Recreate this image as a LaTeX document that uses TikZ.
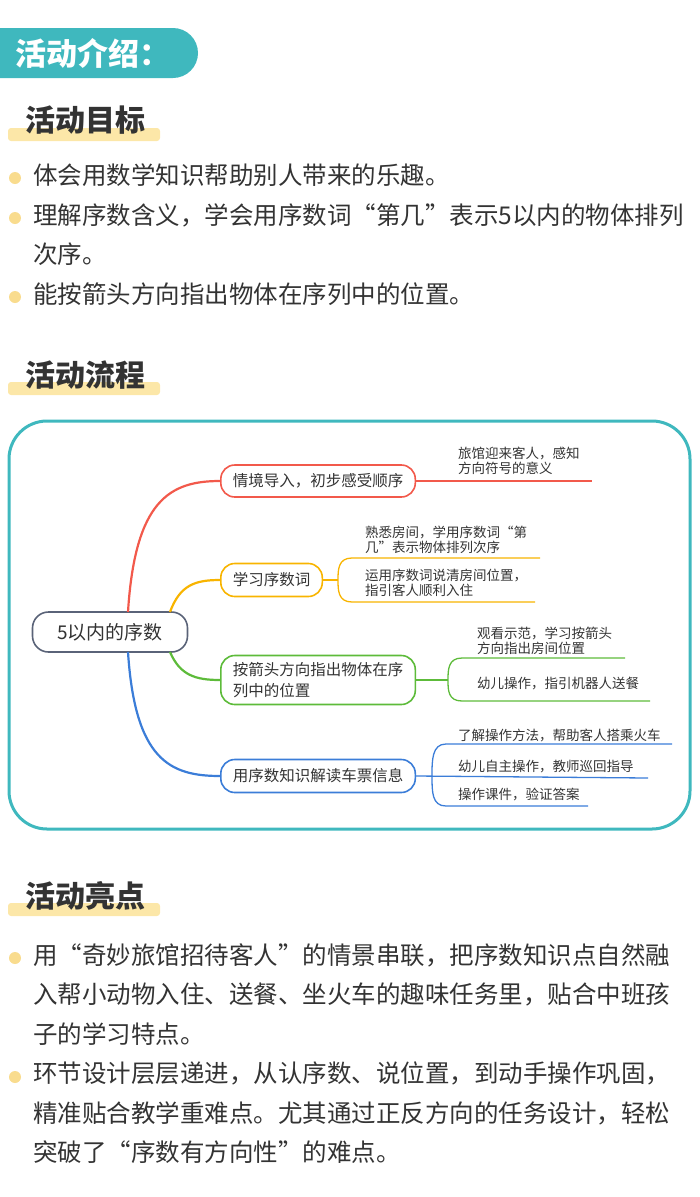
\documentclass[tikz,border=0pt]{standalone}
\usepackage{fontspec}
\setmainfont{Noto Sans CJK SC}
\usepackage{tikz}
\usetikzlibrary{positioning}
\definecolor{teal}{HTML}{3FB8BE}
\definecolor{hlbar}{HTML}{FCE7A8}
\definecolor{dotc}{HTML}{F9DC8E}
\definecolor{ink}{HTML}{333333}
\definecolor{cred}{HTML}{F2594B}
\definecolor{corange}{HTML}{F8B400}
\definecolor{cgreen}{HTML}{5DBB3A}
\definecolor{cblue}{HTML}{3B7DD8}
\definecolor{croot}{HTML}{5A6378}
\tikzset{
  heading/.style={font=\fontsize{30}{34}\selectfont\bfseries, text=ink, anchor=west, inner sep=0pt},
  para/.style={font=\fontsize{24.5}{39.5}\selectfont, text=ink, align=left, anchor=north west, inner sep=0pt},
  dot/.style={circle, fill=dotc, minimum size=12pt, inner sep=0pt},
  branch/.style={draw=#1, line width=1.6pt, rounded corners=14pt, font=\fontsize{15.5}{21}\selectfont, text=ink, inner xsep=12pt, align=left, anchor=west},
  leaf/.style={font=\fontsize{13.5}{15.5}\selectfont, text=ink, align=left, anchor=south west, inner sep=0pt}
}
\begin{document}
\begin{tikzpicture}[x=1pt,y=-1pt]
  \useasboundingbox (0,0) rectangle (700,1197);
  % title
  \fill[teal, rounded corners=25pt] (-30,28) rectangle (198,78);
  \node[font=\fontsize{31}{34}\selectfont\bfseries, text=white, anchor=west] (title) at (12,53) {活动介绍：};
  % goals
  \fill[hlbar, rounded corners=3pt] (8,128) rectangle (160,141);
  \node[heading] (goals) at (25,120) {活动目标};
  \node[dot] (g1) at (15,178) {};
  \node[dot] (g2) at (15,218) {};
  \node[dot] (g3) at (15,297) {};
  \node[para] (gt1) at (33,163) {体会用数学知识帮助别人带来的乐趣。};
  \node[para] (gt2) at (33,203) {理解序数含义，学会用序数词“第几”表示5以内的物体排列\\次序。};
  \node[para] (gt3) at (33,282) {能按箭头方向指出物体在序列中的位置。};
  % flow
  \fill[hlbar, rounded corners=3pt] (8,382) rectangle (160,395);
  \node[heading] (flow) at (25,375) {活动流程};
  \draw[teal, line width=3pt, rounded corners=38pt] (9,421) rectangle (690,829);
  \node[draw=croot, line width=1.6pt, rounded corners=16pt, minimum width=155pt, minimum height=40pt,
        font=\fontsize{19}{21}\selectfont, text=ink] (root) at (110,632) {5以内的序数};
  \node[branch=cred, minimum height=32pt] (b1) at (220,481) {情境导入，初步感受顺序};
  \node[branch=corange, minimum height=33pt] (b2) at (220,580) {学习序数词};
  \node[branch=cgreen, minimum height=49pt] (b3) at (220,680) {按箭头方向指出物体在序\\列中的位置};
  \node[branch=cblue, minimum height=33pt] (b4) at (220,776) {用序数知识解读车票信息};
  \draw[cred, line width=2.2pt] (128,612) .. controls (135,500) and (170,481) .. (b1.west);
  \draw[corange, line width=2.2pt] (170,612) .. controls (180,585) and (195,580) .. (b2.west);
  \draw[cgreen, line width=2.2pt] (170,652) .. controls (180,675) and (195,680) .. (b3.west);
  \draw[cblue, line width=2.2pt] (128,652) .. controls (135,760) and (170,776) .. (b4.west);
  % leaves
  \coordinate (l1) at (592,481);
  \draw[cred, line width=1.3pt] (b1.east) -- (l1);
  \node[leaf] (t1) at (458,475) {旅馆迎来客人，感知\\方向符号的意义};
  \coordinate (l2a) at (540,558); \coordinate (l2b) at (535,602);
  \draw[corange, line width=1.3pt] (b2.east) -- (338,580);
  \draw[corange, line width=1.3pt] (l2a) -- (352,558) .. controls (338,558) and (338,570) .. (338,580)
     .. controls (338,590) and (338,602) .. (352,602) -- (l2b);
  \node[leaf] (t2a) at (365,554) {熟悉房间，学用序数词“第\\几”表示物体排列次序};
  \node[leaf] (t2b) at (365,597) {运用序数词说清房间位置，\\指引客人顺利入住};
  \coordinate (l3a) at (625,658); \coordinate (l3b) at (650,701);
  \draw[cgreen, line width=1.3pt] (b3.east) -- (448,680);
  \draw[cgreen, line width=1.3pt] (l3a) -- (462,658) .. controls (448,658) and (448,670) .. (448,680)
     .. controls (448,690) and (448,701) .. (462,701) -- (l3b);
  \node[leaf] (t3a) at (477,655) {观看示范，学习按箭头\\方向指出房间位置};
  \node[leaf] (t3b) at (477,690) {幼儿操作，指引机器人送餐};
  \coordinate (l4a) at (672,744); \coordinate (l4b) at (648,778); \coordinate (l4c) at (588,806);
  \draw[cblue, line width=1.3pt] (b4.east) -- (l4b);
  \draw[cblue, line width=1.3pt] (l4a) -- (446,744) .. controls (432,744) and (432,760) .. (432,776)
     .. controls (432,792) and (432,806) .. (446,806) -- (l4c);
  \node[leaf] (t4a) at (458,742) {了解操作方法，帮助客人搭乘火车};
  \node[leaf] (t4b) at (458,773) {幼儿自主操作，教师巡回指导};
  \node[leaf] (t4c) at (458,801) {操作课件，验证答案};
  % highlights
  \fill[hlbar, rounded corners=3pt] (8,903) rectangle (160,916);
  \node[heading] (high) at (25,896) {活动亮点};
  \node[dot] (h1) at (15,958) {};
  \node[dot] (h2) at (15,1077) {};
  \node[para] (ht1) at (33,943) {用“奇妙旅馆招待客人”的情景串联，把序数知识点自然融\\入帮小动物入住、送餐、坐火车的趣味任务里，贴合中班孩\\子的学习特点。};
  \node[para] (ht2) at (33,1062) {环节设计层层递进，从认序数、说位置，到动手操作巩固，\\精准贴合教学重难点。尤其通过正反方向的任务设计，轻松\\突破了“序数有方向性”的难点。};
\end{tikzpicture}
\end{document}
